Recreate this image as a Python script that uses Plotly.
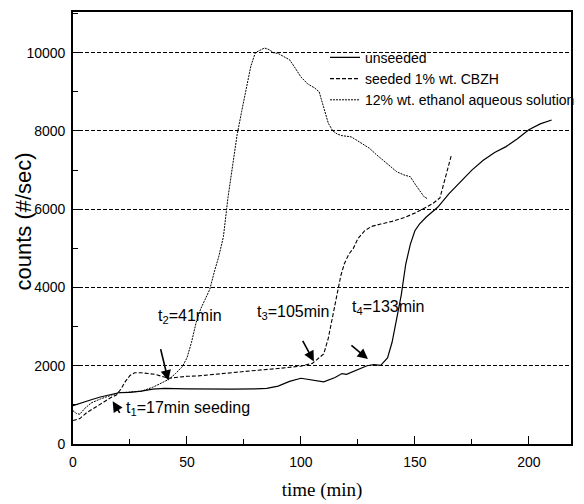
import plotly.graph_objects as go

# ---- data ----
unseeded_x = [0, 2, 5, 8, 12, 17, 20, 25, 30, 35, 40, 50, 60, 70, 80, 85, 90, 95, 100, 105,
              110, 115, 118, 120, 123, 126, 129, 132, 135, 138, 140, 142, 144, 146, 148, 150,
              152, 155, 158, 160, 165, 170, 175, 180, 185, 190, 195, 200, 205, 210]
unseeded_y = [980, 1020, 1090, 1130, 1200, 1260, 1310, 1320, 1350, 1400, 1420, 1410, 1400, 1400, 1410,
              1420, 1480, 1600, 1680, 1640, 1590, 1700, 1800, 1780, 1860, 1920, 2000, 2030, 2010, 2200,
              2600, 3200, 3800, 4600, 5100, 5450, 5620, 5800, 5950, 6050, 6400, 6700, 7000, 7250, 7450,
              7600, 7800, 8030, 8180, 8280]

seeded_x = [0, 3, 6, 10, 14, 17, 19, 21, 23, 25, 27, 30, 33, 36, 39, 42, 45, 50, 55, 60, 65, 70,
            80, 90, 100, 105, 107, 110, 112, 114, 116, 117.5, 119, 121, 123, 125, 128, 131, 135,
            140, 145, 150, 155, 158, 161, 162, 163, 164.5, 166]
seeded_y = [600, 650, 800, 950, 1100, 1200, 1250, 1400, 1600, 1750, 1820, 1820, 1800, 1780, 1730,
            1680, 1700, 1730, 1740, 1770, 1800, 1820, 1880, 1930, 1990, 2060, 2150, 2300, 2700, 3300,
            3900, 4300, 4600, 4850, 5000, 5250, 5450, 5560, 5620, 5690, 5780, 5900, 6050, 6150, 6290,
            6500, 6750, 7000, 7380]

ethanol_x = [0, 1.5, 3, 5, 8, 12, 17, 20, 25, 30, 35, 40, 42, 45, 48, 50, 52, 54, 56, 58, 60, 62,
             64, 66, 68, 70, 72, 74, 76, 78, 80, 82, 84, 86, 88, 90, 92, 95, 97, 100, 103, 106, 108,
             110, 112, 114, 116, 118, 120, 122, 124, 126, 128, 130, 133, 136, 139, 142, 145, 148,
             150, 152, 154, 155.5]
ethanol_y = [850, 780, 760, 900, 1050, 1150, 1250, 1310, 1330, 1350, 1450, 1580, 1650, 1800, 1980,
             2200, 2600, 3100, 3450, 3700, 3950, 4400, 4800, 5300, 6300, 7100, 7900, 8500, 9100, 9650,
             10000, 10050, 10120, 10080, 10000, 9980, 9920, 9820, 9650, 9380, 9200, 9100, 9000, 8600,
             8200, 8000, 7920, 7880, 7870, 7850, 7780, 7700, 7640, 7560, 7400, 7260, 7100, 6960, 6880,
             6830, 6650, 6480, 6320, 6270]

series_names = ["unseeded", "seeded 1% wt. CBZH", "12% wt. ethanol aqueous solution"]

x_ticks = [0, 50, 100, 150, 200]
y_ticks = [0, 2000, 4000, 6000, 8000, 10000]
y_tick_text = ["0", "2000", "4000", "6000", "8000", "10000"]

# annotation labels: (text, x, y)
labels = [
    ("t<sub>1</sub>=17min seeding", 22.4, 900),
    ("t<sub>2</sub>=41min", 36.2, 3250),
    ("t<sub>3</sub>=105min", 79.7, 3350),
    ("t<sub>4</sub>=133min", 121.6, 3480),
]
# arrows: (head x, head y, tail offset px ax, ay)
arrows = [
    (17.4, 1090, 8, 13),
    (41.8, 1620, -8, -33),
    (105.7, 2110, -12, -22),
    (129.4, 2170, -18, -15),
]

fig = go.Figure()
fig.add_trace(go.Scatter(x=unseeded_x, y=unseeded_y, mode="lines", name=series_names[0],
                         line=dict(color="black", width=1.2)))
fig.add_trace(go.Scatter(x=seeded_x, y=seeded_y, mode="lines", name=series_names[1],
                         line=dict(color="black", width=1.1, dash="4px,2px")))
fig.add_trace(go.Scatter(x=ethanol_x, y=ethanol_y, mode="lines", name=series_names[2],
                         line=dict(color="black", width=1.0, dash="2px,1px")))

for txt, x, y in labels:
    fig.add_annotation(x=x, y=y, text=txt, showarrow=False, xanchor="left", yanchor="middle",
                       font=dict(family="Arial, Liberation Sans", size=16, color="black"))
for hx, hy, ax, ay in arrows:
    fig.add_annotation(x=hx, y=hy, text="", showarrow=True, ax=ax, ay=ay,
                       arrowhead=2, arrowsize=1.3, arrowwidth=1.6, arrowcolor="black")

fig.add_annotation(xref="paper", yref="paper", x=-0.0996, y=0.516, text="counts (#/sec)",
                   textangle=-90, showarrow=False, xanchor="center", yanchor="middle",
                   font=dict(family="Arial, Liberation Sans", size=22, color="black"))

fig.update_layout(
    width=584, height=504,
    margin=dict(l=73, r=4, t=12, b=60),
    paper_bgcolor="white", plot_bgcolor="white",
    font=dict(family="Arial, Liberation Sans", color="black"),
    legend=dict(x=0.506, y=0.931, xanchor="left", yanchor="top", bgcolor="rgba(0,0,0,0)",
                font=dict(size=14, color="black"), itemwidth=30, tracegroupgap=0),
    xaxis=dict(range=[0, 218.5], tickvals=x_ticks, ticks="inside", ticklen=8, tickwidth=1.2,
               tickcolor="black", showline=True, mirror=True, linecolor="black", linewidth=1.6,
               showgrid=False, zeroline=False, tickfont=dict(size=14), ticklabelstandoff=4,
               minor=dict(ticks="inside", ticklen=5, tickwidth=1.2, tickcolor="black", dtick=25,
                          showgrid=False),
               title=dict(text="time (min)", font=dict(family="Liberation Serif, Times New Roman",
                                                         size=19), standoff=14)),
    yaxis=dict(range=[0, 11040], tickvals=y_ticks, ticktext=y_tick_text, ticks="inside",
               ticklen=7, tickwidth=1.2, ticklabelstandoff=3,
               tickcolor="black", showline=True, mirror=True, linecolor="black", linewidth=1.6,
               showgrid=True, gridcolor="black", gridwidth=1, griddash="4px,2px",
               zeroline=False, tickfont=dict(size=14),
               minor=dict(ticks="inside", ticklen=5, tickwidth=1.2, tickcolor="black", dtick=1000,
                          showgrid=False)),
)

fig.write_html("out.html")
